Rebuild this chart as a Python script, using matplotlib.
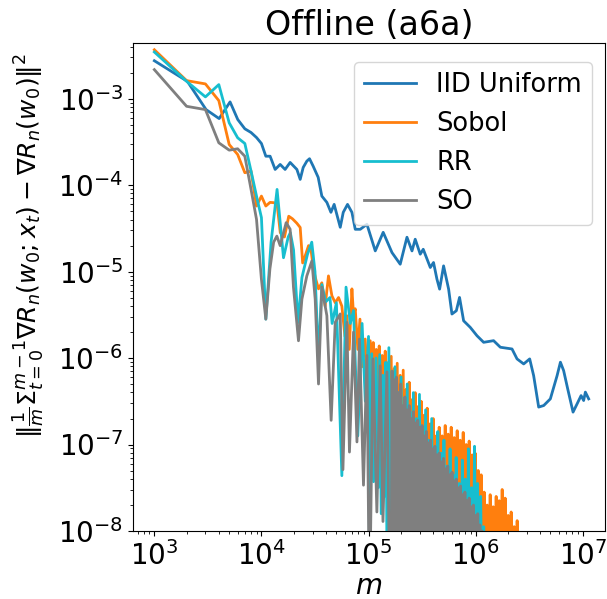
import numpy as np
import matplotlib.pyplot as plt

# values, stored as log10(m) and log10(error)
iid_logm = [3.000, 3.308, 3.483, 3.605, 3.707, 3.779, 3.845, 3.903, 3.954, 4.000,
            4.041, 4.081, 4.128, 4.175, 4.221, 4.268, 4.331, 4.362, 4.390, 4.424,
            4.449, 4.483, 4.530, 4.564, 4.611, 4.649, 4.679, 4.736, 4.764, 4.804,
            4.845, 4.876, 4.923, 4.985, 5.063, 5.137, 5.219, 5.296, 5.359, 5.406,
            5.436, 5.483, 5.511, 5.577, 5.607, 5.639, 5.664, 5.701, 5.748, 5.779,
            5.820, 5.850, 5.888, 5.950, 6.013, 6.075, 6.168, 6.231, 6.340, 6.387,
            6.449, 6.505, 6.542, 6.589, 6.636, 6.698, 6.761, 6.792, 6.822, 6.860,
            6.910, 6.948, 6.985, 7.009, 7.025, 7.056]
iid_logg = [-2.562, -2.800, -3.127, -3.231, -3.038, -3.242, -3.349, -3.392, -3.450, -3.519,
            -3.666, -3.666, -3.819, -3.761, -3.819, -3.738, -3.819, -3.934, -3.796, -3.723,
            -3.695, -3.781, -3.911, -4.127, -4.200, -4.315, -4.223, -4.488, -4.315, -4.223,
            -4.315, -4.511, -4.511, -4.453, -4.761, -4.546, -4.780, -4.915, -4.603, -4.761,
            -4.626, -4.799, -4.742, -4.953, -4.895, -5.088, -5.203, -4.934, -5.203, -5.491,
            -5.453, -5.299, -5.569, -5.645, -5.742, -5.818, -5.799, -5.875, -5.895, -6.010,
            -6.068, -6.010, -6.203, -6.567, -6.549, -6.472, -6.203, -6.048, -6.145, -6.356,
            -6.625, -6.529, -6.434, -6.491, -6.394, -6.472]

sobol_logm = [3.000, 3.301, 3.477, 3.602, 3.699, 3.778, 3.845, 3.903, 3.954, 4.000,
              4.041, 4.080, 4.114, 4.146, 4.176, 4.215, 4.255, 4.290, 4.330, 4.362,
              4.385, 4.408, 4.440, 4.460, 4.486, 4.510, 4.533, 4.564, 4.595, 4.626,
              4.658, 4.689, 4.720, 4.751, 4.780, 4.798, 4.820, 4.845, 4.860, 4.876,
              4.900, 4.920, 4.940, 4.969, 4.990, 5.016]
sobol_logg = [-2.435, -2.792, -2.830, -3.023, -3.531, -3.646, -3.857, -3.838, -4.242, -4.127,
              -4.242, -4.200, -4.203, -4.220, -4.550, -4.600, -4.360, -4.390, -4.440, -4.490,
              -4.900, -4.820, -4.700, -4.720, -4.970, -5.100, -5.200, -5.130, -5.400, -5.050,
              -5.280, -5.360, -5.300, -5.400, -5.750, -5.510, -5.900, -5.200, -5.500, -5.430,
              -5.900, -5.550, -6.100, -5.780, -6.300, -5.800]
sobol_tail = [-6.5, -5.82, -6.8, -5.90, -6.6, -5.86, -7.0, -5.97, -6.7, -5.92, -7.2, -6.05,
              -9, -5.98, -9, -6.12, -9, -6.06, -9, -6.20, -9, -6.14, -9, -6.36, -9, -6.28,
              -9, -6.48, -9, -6.40, -9, -6.56, -9, -6.50, -9, -6.66, -9, -6.58, -9, -6.76,
              -9, -6.70, -9, -6.90, -9, -6.80, -9, -6.90, -9, -6.78, -9, -6.88, -9, -6.80,
              -9, -6.92, -9, -6.84, -9, -6.95, -9, -6.86, -9, -7.00, -9, -6.96, -9, -7.12,
              -9, -7.10, -9, -7.30, -9, -7.35, -9, -7.55, -9, -7.70, -9, -7.58, -9, -7.72,
              -9, -7.60, -9, -7.65, -9, -7.52, -9, -7.62, -9, -7.82, -9, -7.78, -9, -7.95,
              -9, -7.88, -9, -8.2, -9]
sobol_tail_span = (5.03, 6.43)

rr_logm = [3.000, 3.301, 3.477, 3.602, 3.699, 3.778, 3.845, 3.903, 3.954, 4.000,
           4.041, 4.090, 4.146, 4.206, 4.250, 4.270, 4.300, 4.342, 4.378, 4.430,
           4.470, 4.500, 4.533, 4.564, 4.600, 4.640, 4.660, 4.700, 4.751, 4.790,
           4.830, 4.860, 4.900, 4.940, 4.970, 5.000, 5.010, 5.030, 5.047, 5.070]
rr_logg = [-2.461, -2.800, -2.980, -2.838, -3.280, -3.453, -3.519, -3.838, -4.127, -4.376,
           -5.550, -4.660, -4.050, -4.840, -4.600, -4.550, -4.750, -5.590, -5.070, -4.800,
           -4.660, -5.000, -6.010, -5.150, -5.350, -5.300, -5.600, -5.360, -7.360, -5.180,
           -5.600, -5.450, -6.900, -5.600, -6.500, -5.750, -8.900, -5.950, -7.430, -6.000]
rr_tail = [-7.5, -5.96, -7.8, -6.20, -7.6, -6.05, -9, -5.88, -9, -6.25, -9, -6.10,
           -9, -6.40, -9, -6.22, -9, -6.55, -9, -6.30, -9, -6.62, -9, -6.40, -9, -6.70,
           -9, -6.42, -9, -6.85, -9, -6.60, -9, -6.95, -9, -6.70, -9, -7.05, -9, -6.85,
           -9, -7.10, -9, -6.95, -9, -7.25, -9, -7.05, -9, -7.35, -9, -7.15, -9, -7.45,
           -9, -7.18, -9, -7.40, -9, -7.05, -9, -7.50, -9, -7.02, -9, -7.45, -9, -7.60,
           -9, -7.95, -9]
rr_tail_span = (5.09, 6.09)

so_logm = [3.000, 3.301, 3.477, 3.602, 3.699, 3.778, 3.845, 3.903, 3.954, 4.000,
           4.041, 4.079, 4.114, 4.144, 4.175, 4.231, 4.268, 4.299, 4.346, 4.378,
           4.424, 4.471, 4.502, 4.533, 4.564, 4.611, 4.651, 4.689, 4.736, 4.761,
           4.798, 4.822, 4.860, 4.892, 4.916, 4.953, 4.985, 5.009, 5.041, 5.078,
           5.109, 5.135, 5.172, 5.200]
so_logg = [-2.665, -3.089, -3.127, -3.511, -3.596, -3.580, -3.666, -4.050, -4.396, -5.090,
           -5.550, -4.970, -4.660, -4.590, -4.700, -4.434, -4.510, -5.180, -5.800, -5.318,
           -5.050, -4.877, -5.320, -6.300, -5.180, -5.510, -6.720, -5.587, -5.490, -7.290,
           -5.587, -7.087, -5.700, -6.970, -5.780, -7.470, -5.970, -9.000, -6.010, -7.780,
           -6.090, -7.890, -6.160, -9.000]
so_tail = [-8.9, -6.15, -9.0, -6.25, -8.6, -6.22, -9.0, -6.40, -9.0, -6.30, -8.8, -6.55,
           -9.0, -6.45, -9.0, -6.60, -8.7, -6.55, -9.0, -6.70, -9.0, -6.62, -8.9, -6.75,
           -9.0, -6.72, -9.0, -6.80, -8.8, -6.78, -9.0, -6.90, -9.0, -6.85, -8.9, -6.98,
           -9.0, -6.95, -9.0, -7.05, -8.8, -7.02, -9.0, -7.12, -9.0, -7.10, -8.9, -7.20,
           -9.0, -7.16, -9.0, -7.28, -8.8, -7.25, -9.0, -7.35, -9.0, -7.32, -8.9, -7.42,
           -9.0, -7.40, -9.0, -7.50, -8.8, -7.48, -9.0, -7.58, -9.0, -7.55, -8.9, -7.65,
           -9.0, -7.62, -9.0, -7.72, -8.8, -7.70, -9.0, -7.82, -9.0, -7.80, -9.0, -7.93,
           -9.0, -8.00, -9.0]
so_tail_span = (5.21, 6.07)


def series(logm, logg, tail, span):
    x = list(logm) + list(np.linspace(span[0], span[1], len(tail)))
    y = list(logg) + list(tail)
    return 10 ** np.array(x), 10 ** np.array(y)


fig = plt.figure(figsize=(6.07, 5.99), dpi=100)
ax = fig.add_axes([0.219, 0.1135, 0.778, 0.8147])

ax.plot(10 ** np.array(iid_logm), 10 ** np.array(iid_logg), color='tab:blue', lw=2, label='IID Uniform')
x, y = series(sobol_logm, sobol_logg, sobol_tail, sobol_tail_span)
ax.plot(x, y, color='tab:orange', lw=2, label='Sobol')
x, y = series(rr_logm, rr_logg, rr_tail, rr_tail_span)
ax.plot(x, y, color='tab:cyan', lw=2, label='RR')
x, y = series(so_logm, so_logg, so_tail, so_tail_span)
ax.plot(x, y, color='tab:gray', lw=2, label='SO')

ax.set_xscale('log')
ax.set_yscale('log')
ax.set_xlim(10 ** 2.8, 10 ** 7.21)
ax.set_ylim(1e-8, 10 ** -2.357)
ax.set_title('Offline (a6a)', fontsize=24)
ax.set_xlabel('$m$', fontsize=20, labelpad=1)
ax.set_ylabel(r'$\|\frac{1}{m}\Sigma_{t=0}^{m-1}\nabla R_n(w_0;x_t) - \nabla R_n(w_0)\|^2$', fontsize=18)
ax.yaxis.set_label_coords(-0.182, 0.584)
ax.tick_params(labelsize=20)
ax.legend(fontsize=18.5, loc='upper right', bbox_to_anchor=(1.0, 0.988))

fig.savefig('out.png', dpi=100)
